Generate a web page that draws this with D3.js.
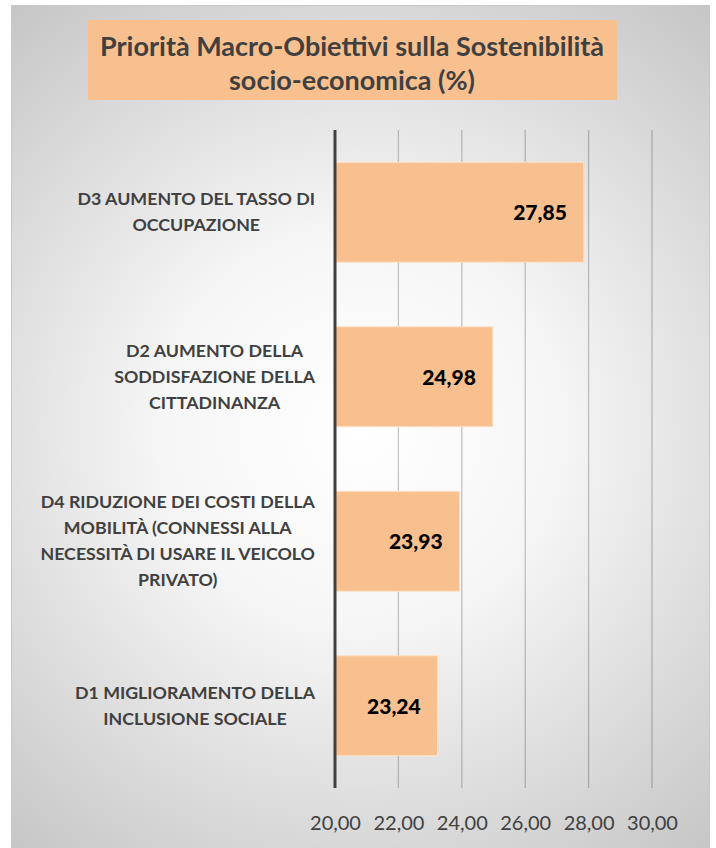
<!DOCTYPE html>
<html>
<head>
<meta charset="utf-8">
<script src="https://cdn.jsdelivr.net/npm/d3@7"></script>
<style>
  body { margin: 0; background: #fff; }
  svg { display: block; font-family: Lato, "Open Sans", sans-serif; }
</style>
</head>
<body>
<div id="chart"></div>
<script>
const width = 716;
const height = 848;

// data
const categories = [
  "D3 AUMENTO DEL TASSO DI OCCUPAZIONE",
  "D2 AUMENTO DELLA SODDISFAZIONE DELLA CITTADINANZA",
  "D4 RIDUZIONE DEI COSTI DELLA MOBILITÀ (CONNESSI ALLA NECESSITÀ DI USARE IL VEICOLO PRIVATO)",
  "D1 MIGLIORAMENTO DELLA INCLUSIONE SOCIALE"
];
const labelLines = [
  ["D3 AUMENTO DEL TASSO DI", "OCCUPAZIONE"],
  ["D2 AUMENTO DELLA", "SODDISFAZIONE DELLA", "CITTADINANZA"],
  ["D4 RIDUZIONE DEI COSTI DELLA", "MOBILITÀ (CONNESSI ALLA", "NECESSITÀ DI USARE IL VEICOLO", "PRIVATO)"],
  ["D1 MIGLIORAMENTO DELLA", "INCLUSIONE SOCIALE"]
];
const values = [27.85, 24.98, 23.93, 23.24];
const tickValues = [20, 22, 24, 26, 28, 30];
const titleLines = ["Priorità Macro-Obiettivi sulla Sostenibilità", "socio-economica (%)"];

const fmt = v => d3.format(".2f")(v).replace(".", ",");

const svg = d3.select("#chart").append("svg")
  .attr("width", width)
  .attr("height", height);

const defs = svg.append("defs");
const grad = defs.append("radialGradient")
  .attr("id", "bg")
  .attr("gradientUnits", "userSpaceOnUse")
  .attr("cx", 360).attr("cy", 430).attr("r", 560);
grad.append("stop").attr("offset", "0%").attr("stop-color", "#ffffff");
grad.append("stop").attr("offset", "35%").attr("stop-color", "#f6f6f6");
grad.append("stop").attr("offset", "100%").attr("stop-color", "#c4c4c4");

svg.append("rect")
  .attr("x", 11.5).attr("y", 5.5)
  .attr("width", 698).attr("height", 850)
  .attr("fill", "url(#bg)")
  .attr("stroke", "#c8c8c8");

// title box
svg.append("rect")
  .attr("x", 88).attr("y", 20)
  .attr("width", 529).attr("height", 80)
  .attr("fill", "#f9c08f");

svg.append("g").selectAll("text")
  .data(titleLines)
  .join("text")
    .attr("x", 352)
    .attr("y", (d, i) => 56 + i * 34)
    .attr("text-anchor", "middle")
    .attr("font-size", 27)
    .attr("font-weight", "bold")
    .attr("fill", "#404040")
    .text(d => d);

// scales
const x = d3.scaleLinear().domain([20, 30]).range([335, 652]);
const y = d3.scaleBand()
  .domain(categories)
  .range([130, 788])
  .paddingInner(0.392)
  .paddingOuter(0.196);

// gridlines
svg.append("g").selectAll("line")
  .data(tickValues.slice(1))
  .join("line")
    .attr("x1", d => x(d)).attr("x2", d => x(d))
    .attr("y1", 130).attr("y2", 788)
    .attr("stroke", "#000")
    .attr("stroke-opacity", 0.22)
    .attr("stroke-width", 1.3);

// x axis labels
const xAxis = svg.append("g")
  .attr("transform", "translate(0,788)")
  .call(d3.axisBottom(x).tickValues(tickValues).tickFormat(fmt).tickSize(0).tickPadding(0));
xAxis.select(".domain").remove();
xAxis.selectAll("text")
  .attr("dy", 0)
  .attr("y", 42)
  .attr("font-family", "Lato, sans-serif")
  .attr("font-size", 20)
  .attr("fill", "#404040");

// bars
svg.append("g").selectAll("rect")
  .data(values)
  .join("rect")
    .attr("x", x(20))
    .attr("y", (d, i) => y(categories[i]))
    .attr("width", d => x(d) - x(20))
    .attr("height", y.bandwidth())
    .attr("fill", "#f9c08f")
    .attr("stroke", "#fde3cc")
    .attr("stroke-width", 1);

// value labels
svg.append("g").selectAll("text")
  .data(values)
  .join("text")
    .attr("x", d => x(d) - 17)
    .attr("y", (d, i) => y(categories[i]) + y.bandwidth() / 2 + 8)
    .attr("text-anchor", "end")
    .attr("font-size", 21)
    .attr("font-weight", 900)
    .attr("fill", "#000")
    .text(d => fmt(d));

// vertical axis line
svg.append("line")
  .attr("x1", x(20)).attr("x2", x(20))
  .attr("y1", 130).attr("y2", 788)
  .attr("stroke", "#404040")
  .attr("stroke-width", 3);

// category labels, lines centred inside a block right-aligned at 315
const lineH = 26;
labelLines.forEach((lines, i) => {
  const cy = y(categories[i]) + y.bandwidth() / 2;
  const g = svg.append("g");
  const texts = g.selectAll("text")
    .data(lines)
    .join("text")
      .attr("y", (d, j) => cy + (j - (lines.length - 1) / 2) * lineH + 6)
      .attr("text-anchor", "middle")
      .attr("font-size", 17.8)
      .attr("font-weight", "bold")
      .attr("fill", "#404040")
      .text(d => d);
  let maxW = 0;
  texts.each(function() { maxW = Math.max(maxW, this.getComputedTextLength()); });
  texts.attr("x", 315 - maxW / 2);
});
</script>
</body>
</html>
